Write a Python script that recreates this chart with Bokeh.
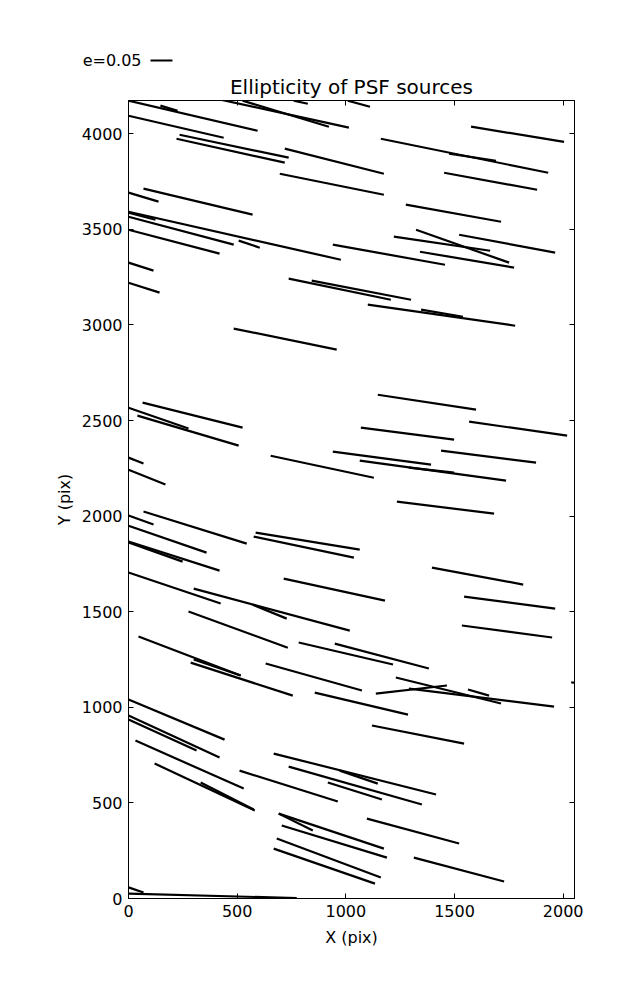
from bokeh.plotting import figure
from bokeh.layouts import column
from bokeh.models import Range1d, LinearAxis, FixedTicker, CustomJSTickFormatter
from bokeh.core.properties import value
from bokeh.embed import file_html
from bokeh.resources import INLINE

# Whisker segments (pixel coords of the CCD): start and end points
x_start = [0, 147, 0, 235, 221, 424, 525, 760, 1009, 1161, 1475, 1576, 1452, 719, 696,
           0, 69, 0, 0, 0, 0, 507, 940, 1221, 1323, 1341, 1521, 1276, 737, 843, 0, 0,
           484, 1101, 1346, 65, 0, 41, 0, 0, 654, 1147, 1069, 1567, 940, 1064, 1290, 1438,
           1235, 69, 0, 0, 0, 0, 585, 576, 714, 1396, 1544, 1534, 0, 300, 571, 276, 783,
           949, 46, 300, 286, 631, 857, 1230, 1138, 1290, 1562, 2037, 0, 0, 0, 32, 120,
           332, 511, 668, 1120, 737, 972, 917, 691, 691, 705, 682, 668, 1097, 1313, 0, 0]
y_start = [4173, 4147, 4094, 3995, 3974, 4178, 4173, 4173, 4173, 3974, 3896, 4037, 3796, 3922, 3791,
           3692, 3713, 3587, 3592, 3566, 3498, 3441, 3420, 3462, 3498, 3383, 3472, 3629, 3242, 3232, 3326, 3221,
           2981, 3106, 3080, 2594, 2567, 2526, 2306, 2243, 2316, 2635, 2463, 2494, 2337, 2290, 2254, 2343,
           2076, 2024, 2003, 1950, 1867, 1862, 1914, 1893, 1673, 1731, 1579, 1428, 1705, 1621, 1537, 1501, 1339,
           1333, 1370, 1250, 1234, 1229, 1077, 1156, 1072, 1098, 1093, 1130, 1041, 957, 936, 826, 706,
           607, 669, 758, 905, 690, 669, 607, 444, 444, 382, 314, 261, 418, 214, 58, 26]
x_end = [594, 226, 438, 737, 719, 1014, 922, 825, 1111, 1931, 1691, 2004, 1880, 1175, 1175,
         138, 571, 124, 977, 484, 419, 604, 1456, 1664, 1751, 1774, 1963, 1714, 1207, 1300, 115, 143,
         958, 1779, 1539, 525, 276, 507, 69, 170, 1129, 1599, 1498, 2018, 1392, 1737, 1498, 1875,
         1682, 544, 115, 359, 419, 249, 1064, 1037, 1180, 1816, 1963, 1949, 424, 1018, 728, 733, 1217,
         1382, 516, 516, 756, 1074, 1286, 1714, 1465, 1958, 1659, 2080, 442, 419, 313, 530, 581,
         576, 963, 1415, 1544, 1350, 1147, 1166, 1175, 848, 1189, 1161, 1134, 1521, 1728, 69, 774]
y_end = [4016, 4120, 3979, 3875, 3849, 4032, 4037, 4157, 4141, 3796, 3859, 3958, 3707, 3791, 3681,
         3645, 3577, 3550, 3341, 3420, 3373, 3404, 3315, 3388, 3326, 3300, 3378, 3540, 3132, 3132, 3284, 3169,
         2871, 2996, 3043, 2463, 2458, 2369, 2275, 2165, 2201, 2557, 2400, 2421, 2269, 2186, 2228, 2280,
         2013, 1856, 1956, 1809, 1715, 1762, 1825, 1783, 1558, 1642, 1516, 1365, 1543, 1401, 1464, 1312, 1224,
         1203, 1166, 1166, 1061, 1088, 962, 1020, 1114, 1004, 1061, 1126, 831, 737, 774, 575, 460,
         465, 507, 544, 810, 492, 601, 518, 261, 356, 214, 110, 78, 288, 89, 31, 2]

x_ticks = [0, 500, 1000, 1500, 2000]
y_ticks = [0, 500, 1000, 1500, 2000, 2500, 3000, 3500, 4000]
x_limits = (0, 2052)
y_limits = (0, 4174)
key_label = "e=0.05"
key_length = 101   # whisker length of e=0.05, in x pixels of the CCD
title_text = "Ellipticity of PSF sources"

FONT = "DejaVu Sans"
LEFT, FRAME_W, RIGHT = 128, 446, 55
KEY_H = 70
TOP, FRAME_H, BOTTOM = 30, 798, 94


def no_align(fig):
    try:
        fig.frame_align = False
    except Exception:
        pass


# ---- key strip (quiver key) above the main plot ----
sx = FRAME_W / (x_limits[1] - x_limits[0])           # screen px per CCD pixel
total_w = LEFT + FRAME_W + RIGHT
key = figure(frame_width=total_w, frame_height=KEY_H,
             min_border_left=0, min_border_right=0, min_border_top=0, min_border_bottom=0,
             x_range=Range1d(x_limits[0] - LEFT / sx, x_limits[0] + (total_w - LEFT) / sx),
             y_range=Range1d(KEY_H, 0),
             output_backend="svg", toolbar_location=None)
no_align(key)
key.axis.visible = False
key.grid.visible = False
key.outline_line_color = None
key.background_fill_color = "white"
key.border_fill_color = "white"
text_x = 13 / sx
line_x0 = 22 / sx
key.text(x=[text_x], y=[60], text=[key_label], text_align="right",
         text_baseline="middle", text_font=value(FONT), text_font_size="16px", text_color="black")
key.segment(x0=[line_x0], y0=[60], x1=[line_x0 + key_length], y1=[60],
            line_color="black", line_width=2.2)

# ---- main whisker plot ----
p = figure(frame_width=FRAME_W, frame_height=FRAME_H,
           min_border_left=LEFT, min_border_right=RIGHT, min_border_top=TOP, min_border_bottom=BOTTOM,
           x_range=Range1d(*x_limits), y_range=Range1d(*y_limits),
           output_backend="svg", toolbar_location=None, title=title_text)
no_align(p)

p.title.align = "center"
p.title.text_font = FONT
p.title.text_font_size = "20px"
p.title.text_font_style = "normal"
p.title.text_color = "black"
p.title.standoff = 4

p.grid.visible = False
p.outline_line_color = "black"
p.outline_line_width = 1
p.background_fill_color = "white"
p.border_fill_color = "white"

p.segment(x0=x_start, y0=y_start, x1=x_end, y1=y_end, line_color="black", line_width=2.2)

def style_axis(ax, ticks):
    ax.ticker = FixedTicker(ticks=ticks)
    ax.major_tick_in = 5
    ax.major_tick_out = 0
    ax.minor_tick_line_color = None
    ax.axis_line_color = "black"
    ax.major_tick_line_color = "black"
    ax.major_label_text_font = FONT
    ax.major_label_text_font_size = "16px"
    ax.major_label_text_color = "black"
    ax.axis_label_text_font = FONT
    ax.axis_label_text_font_size = "16px"
    ax.axis_label_text_font_style = "normal"
    ax.axis_label_text_color = "black"
    ax.major_label_standoff = 6

style_axis(p.xaxis[0], x_ticks)
style_axis(p.yaxis[0], y_ticks)
p.xaxis[0].axis_label = "X (pix)"
p.yaxis[0].axis_label = "Y (pix)"
p.xaxis[0].axis_label_standoff = 8
p.yaxis[0].axis_label_standoff = 5

blank = CustomJSTickFormatter(code="return ''")
ax_r = LinearAxis()
style_axis(ax_r, y_ticks)
ax_r.formatter = blank
ax_r.major_label_standoff = 0
p.add_layout(ax_r, "right")
ax_t = LinearAxis()
style_axis(ax_t, x_ticks)
ax_t.formatter = blank
ax_t.major_label_standoff = 0
p.add_layout(ax_t, "above")

layout = column(key, p, spacing=0)
open("out.html", "w").write(file_html(layout, INLINE))
